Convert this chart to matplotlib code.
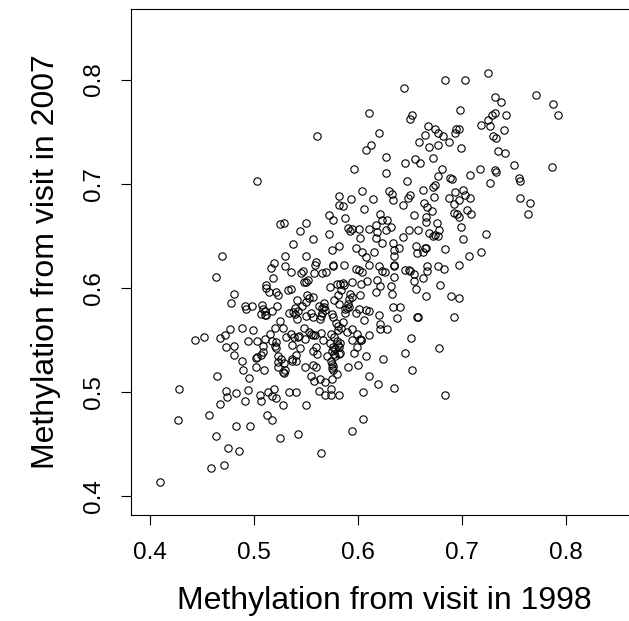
import numpy as np
import matplotlib
matplotlib.use("Agg")
import matplotlib.pyplot as plt

plt.rcParams['font.family'] = ['Liberation Sans', 'DejaVu Sans']

# methylation values (1998 visit vs 2007 visit)
meth_1998 = [
    0.725, 0.6835, 0.703, 0.644, 0.771, 0.732, 0.737, 0.787, 0.698, 0.610,
    0.729, 0.732, 0.742, 0.792, 0.652, 0.650, 0.725, 0.667, 0.674, 0.694,
    0.697, 0.718, 0.727, 0.740, 0.620, 0.677, 0.693, 0.664, 0.682, 0.5605,
    0.730, 0.733, 0.659, 0.687, 0.612, 0.608, 0.668, 0.677, 0.699, 0.735,
    0.741, 0.627, 0.655, 0.672, 0.660, 0.645, 0.750, 0.786, 0.596, 0.717,
    0.681, 0.732, 0.733, 0.627, 0.677, 0.7075, 0.688, 0.690, 0.647, 0.503,
    0.755, 0.756, 0.727, 0.674, 0.672, 0.630, 0.604, 0.662, 0.701, 0.693,
    0.582, 0.633, 0.650, 0.648, 0.703, 0.593, 0.614, 0.708, 0.673, 0.687,
    0.634, 0.756, 0.697, 0.663, 0.692, 0.765, 0.582, 0.585, 0.643, 0.666,
    0.606, 0.705, 0.671, 0.692, 0.695, 0.709, 0.763, 0.572, 0.654, 0.621,
    0.697, 0.587, 0.576, 0.5245, 0.529, 0.628, 0.623, 0.665, 0.665, 0.550,
    0.676, 0.617, 0.632, 0.610, 0.699, 0.590, 0.592, 0.594, 0.601, 0.544,
    0.627, 0.649, 0.658, 0.678, 0.668, 0.723, 0.618, 0.572, 0.674, 0.672,
    0.677, 0.643, 0.602, 0.557, 0.701, 0.617, 0.623, 0.634, 0.537, 0.582,
    0.656, 0.684, 0.598, 0.639, 0.635, 0.635, 0.575, 0.604, 0.615, 0.657,
    0.662, 0.664, 0.665, 0.718, 0.530, 0.550, 0.469, 0.608, 0.707, 0.519,
    0.5595, 0.559, 0.576, 0.576, 0.586, 0.530, 0.516, 0.635, 0.635, 0.598,
    0.601, 0.610, 0.620, 0.666, 0.666, 0.677, 0.697, 0.683, 0.535, 0.547,
    0.545, 0.558, 0.565, 0.569, 0.623, 0.626, 0.645, 0.649, 0.650, 0.604,
    0.635, 0.654, 0.518, 0.4635, 0.662, 0.552, 0.548, 0.550, 0.618, 0.609,
    0.654, 0.603, 0.511, 0.580, 0.583, 0.585, 0.586, 0.594, 0.573, 0.679,
    0.621, 0.632, 0.511, 0.514, 0.5325, 0.535, 0.656, 0.584, 0.581, 0.617,
    0.5215, 0.523, 0.481, 0.551, 0.592, 0.594, 0.591, 0.602, 0.633, 0.665,
    0.689, 0.697, 0.478, 0.557, 0.553, 0.541, 0.577, 0.590, 0.591, 0.589,
    0.587, 0.582, 0.550, 0.567, 0.4915, 0.492, 0.498, 0.508, 0.509, 0.510,
    0.522, 0.539, 0.537, 0.546, 0.5625, 0.565, 0.567, 0.568, 0.634, 0.640,
    0.601, 0.608, 0.507, 0.510, 0.5115, 0.517, 0.534, 0.542, 0.5395, 0.555,
    0.557, 0.565, 0.564, 0.5745, 0.576, 0.550, 0.587, 0.598, 0.610, 0.620,
    0.657, 0.658, 0.692, 0.541, 0.563, 0.637, 0.525, 0.579, 0.581, 0.585,
    0.606, 0.621, 0.621, 0.628, 0.477, 0.488, 0.4985, 0.520, 0.528, 0.5475,
    0.584, 0.581, 0.594, 0.553, 0.555, 0.557, 0.559, 0.472, 0.467, 0.4435,
    0.452, 0.5155, 0.535, 0.543, 0.542, 0.5385, 0.564, 0.574, 0.5895, 0.5985,
    0.602, 0.610, 0.577, 0.531, 0.494, 0.503, 0.510, 0.517, 0.521, 0.5485,
    0.566, 0.594, 0.6025, 0.603, 0.580, 0.583, 0.581, 0.582, 0.651, 0.536,
    0.5595, 0.557, 0.573, 0.575, 0.578, 0.576, 0.473, 0.481, 0.4805, 0.509,
    0.509, 0.5205, 0.521, 0.544, 0.599, 0.678, 0.583, 0.582, 0.645, 0.507,
    0.5225, 0.540, 0.536, 0.536, 0.560, 0.570, 0.5765, 0.578, 0.596, 0.608,
    0.526, 0.5025, 0.5015, 0.523, 0.529, 0.488, 0.574, 0.5745, 0.576, 0.624,
    0.5485, 0.523, 0.540, 0.502, 0.5595, 0.5565, 0.590, 0.600, 0.5095, 0.489,
    0.575, 0.576, 0.5295, 0.529, 0.5275, 0.652, 0.4645, 0.495, 0.555, 0.5795,
    0.610, 0.5575, 0.5635, 0.5685, 0.5745, 0.619, 0.635, 0.4275, 0.4725, 0.4735,
    0.4825, 0.494, 0.5055, 0.5065, 0.513, 0.517, 0.519, 0.5215, 0.534, 0.540,
    0.562, 0.568, 0.574, 0.574, 0.582, 0.605, 0.684, 0.4675, 0.491, 0.5275,
    0.550, 0.4565, 0.512, 0.517, 0.4265, 0.4825, 0.496, 0.605, 0.594, 0.5425,
    0.5245, 0.463, 0.4745, 0.485, 0.564, 0.4715, 0.459, 0.4095,
]
meth_2007 = [
    0.806, 0.800, 0.800, 0.792, 0.785, 0.783, 0.778, 0.777, 0.771, 0.768,
    0.766, 0.768, 0.766, 0.766, 0.766, 0.762, 0.761, 0.755, 0.753, 0.753,
    0.753, 0.756, 0.755, 0.752, 0.749, 0.749, 0.749, 0.747, 0.746, 0.746,
    0.746, 0.744, 0.740, 0.740, 0.737, 0.732, 0.735, 0.737, 0.734, 0.731,
    0.730, 0.726, 0.724, 0.725, 0.720, 0.720, 0.718, 0.716, 0.714, 0.714,
    0.714, 0.713, 0.711, 0.710, 0.707, 0.708, 0.706, 0.705, 0.703, 0.703,
    0.706, 0.703, 0.701, 0.699, 0.697, 0.693, 0.693, 0.694, 0.694, 0.692,
    0.688, 0.690, 0.689, 0.686, 0.689, 0.685, 0.685, 0.686, 0.687, 0.686,
    0.684, 0.686, 0.684, 0.682, 0.681, 0.682, 0.680, 0.679, 0.680, 0.678,
    0.676, 0.675, 0.674, 0.672, 0.671, 0.671, 0.671, 0.670, 0.670, 0.671,
    0.668, 0.667, 0.665, 0.661, 0.662, 0.665, 0.665, 0.668, 0.663, 0.662,
    0.662, 0.660, 0.659, 0.657, 0.659, 0.658, 0.655, 0.657, 0.657, 0.655,
    0.656, 0.656, 0.656, 0.656, 0.653, 0.652, 0.654, 0.652, 0.651, 0.650,
    0.650, 0.649, 0.648, 0.647, 0.647, 0.648, 0.643, 0.643, 0.642, 0.640,
    0.640, 0.637, 0.638, 0.638, 0.636, 0.631, 0.636, 0.635, 0.635, 0.634,
    0.635, 0.638, 0.638, 0.635, 0.631, 0.631, 0.631, 0.630, 0.631, 0.624,
    0.625, 0.622, 0.621, 0.622, 0.622, 0.621, 0.619, 0.622, 0.621, 0.618,
    0.617, 0.622, 0.621, 0.621, 0.616, 0.621, 0.622, 0.618, 0.615, 0.616,
    0.614, 0.614, 0.614, 0.615, 0.616, 0.615, 0.617, 0.617, 0.616, 0.615,
    0.611, 0.613, 0.610, 0.611, 0.610, 0.608, 0.606, 0.606, 0.608, 0.607,
    0.607, 0.604, 0.603, 0.604, 0.604, 0.605, 0.603, 0.606, 0.601, 0.603,
    0.602, 0.602, 0.600, 0.596, 0.598, 0.599, 0.599, 0.598, 0.593, 0.596,
    0.596, 0.593, 0.594, 0.593, 0.594, 0.591, 0.589, 0.593, 0.594, 0.592,
    0.592, 0.590, 0.586, 0.591, 0.590, 0.588, 0.588, 0.585, 0.582, 0.581,
    0.580, 0.585, 0.587, 0.586, 0.583, 0.580, 0.583, 0.584, 0.580, 0.578,
    0.583, 0.581, 0.577, 0.583, 0.583, 0.581, 0.582, 0.579, 0.582, 0.582,
    0.580, 0.579, 0.575, 0.574, 0.574, 0.578, 0.576, 0.578, 0.575, 0.576,
    0.572, 0.576, 0.573, 0.575, 0.572, 0.573, 0.576, 0.576, 0.578, 0.574,
    0.572, 0.572, 0.572, 0.570, 0.570, 0.571, 0.568, 0.566, 0.564, 0.567,
    0.569, 0.565, 0.561, 0.561, 0.561, 0.562, 0.560, 0.562, 0.562, 0.562,
    0.562, 0.560, 0.561, 0.558, 0.556, 0.555, 0.555, 0.555, 0.552, 0.550,
    0.553, 0.556, 0.556, 0.554, 0.553, 0.553, 0.557, 0.556, 0.558, 0.556,
    0.551, 0.555, 0.553, 0.553, 0.549, 0.549, 0.551, 0.549, 0.548, 0.551,
    0.550, 0.550, 0.550, 0.550, 0.549, 0.547, 0.545, 0.543, 0.552, 0.545,
    0.543, 0.540, 0.547, 0.540, 0.541, 0.543, 0.543, 0.544, 0.536, 0.544,
    0.539, 0.544, 0.542, 0.542, 0.543, 0.542, 0.538, 0.537, 0.538, 0.536,
    0.535, 0.536, 0.532, 0.530, 0.537, 0.535, 0.537, 0.535, 0.538, 0.535,
    0.532, 0.534, 0.533, 0.529, 0.528, 0.530, 0.530, 0.527, 0.525, 0.532,
    0.524, 0.524, 0.530, 0.524, 0.524, 0.526, 0.524, 0.526, 0.521, 0.521,
    0.523, 0.521, 0.521, 0.518, 0.519, 0.521, 0.516, 0.514, 0.516, 0.517,
    0.516, 0.511, 0.513, 0.510, 0.513, 0.508, 0.504, 0.503, 0.501, 0.495,
    0.499, 0.502, 0.497, 0.492, 0.500, 0.496, 0.503, 0.494, 0.500, 0.500,
    0.501, 0.497, 0.503, 0.497, 0.497, 0.500, 0.497, 0.4885, 0.492, 0.488,
    0.488, 0.478, 0.478, 0.473, 0.473, 0.468, 0.468, 0.474, 0.463, 0.460,
    0.4565, 0.458, 0.446, 0.444, 0.442, 0.430, 0.427, 0.414,
]

tick_vals = [0.4, 0.5, 0.6, 0.7, 0.8]

fig = plt.figure(figsize=(6.29, 6.21), dpi=100)
# right edge of the frame falls just outside the picture, as in the reference
ax = fig.add_axes([0.2089, 0.1704, 0.8035, 0.8156])

ax.plot(meth_1998, meth_2007, linestyle='none', marker='o', markersize=5.3,
        markerfacecolor='none', markeredgecolor='black', markeredgewidth=0.8)

ax.set_xlim(0.382, 0.868)
ax.set_ylim(0.382, 0.868)
ax.set_xticks(tick_vals)
ax.set_yticks(tick_vals)
ax.set_xticklabels([f"{v:.1f}" for v in tick_vals])
ax.set_yticklabels([f"{v:.1f}" for v in tick_vals], rotation=90, va='center')
ax.tick_params(direction='out', length=7, width=0.8, labelsize=17.5, pad=12)

for sp in ax.spines.values():
    sp.set_linewidth(0.8)

ax.set_xlabel("Methylation from visit in 1998", fontsize=23, labelpad=16)
ax.set_ylabel("Methylation from visit in 2007", fontsize=23, labelpad=16)

fig.savefig("out.png", dpi=100)
